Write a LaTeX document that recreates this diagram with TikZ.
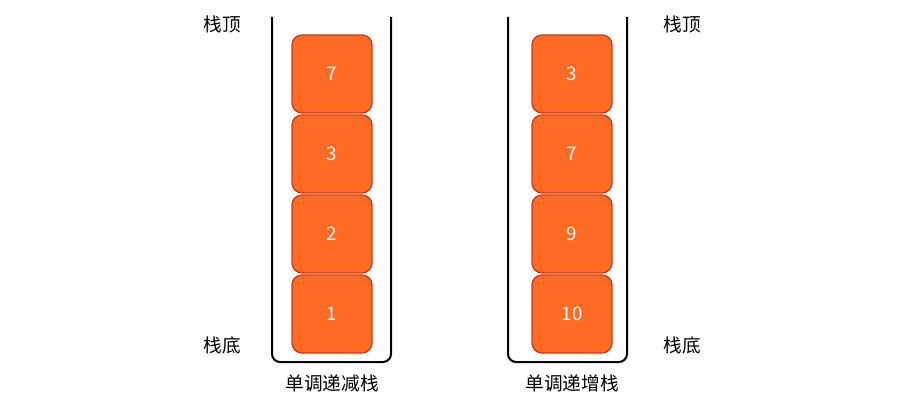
\documentclass[tikz,border=0pt]{standalone}
\usepackage{fontspec}
\setmainfont{Noto Sans CJK SC}
\usepackage{tikz}
\usetikzlibrary{positioning}
\definecolor{cellfill}{HTML}{FF6A25}
\definecolor{celldraw}{HTML}{CC3A1A}

\begin{document}
\begin{tikzpicture}[x=0.75pt,y=-0.75pt]
		\tikzstyle{cell}=[draw=celldraw,fill=cellfill,rounded corners=7.5pt,line width=1pt,minimum width=60pt,minimum height=58.5pt,text=white,font=\fontsize{14}{16}\selectfont,inner sep=0pt]
		\tikzstyle{tag}=[font=\fontsize{14}{16}\selectfont,inner sep=0pt]
		\tikzstyle{wall}=[line width=1.5pt,rounded corners=6pt]
		\useasboundingbox (0,0) rectangle (900,403);
		
		% stacks
		\draw[wall] (272,17) -- (272,362) -- (391,362) -- (391,17);
		\draw[wall] (508,17) -- (508,362) -- (627,362) -- (627,17);
		
		\foreach \v [count=\i] in {7,3,2,1}
		\node[cell] (dec\i) at (332,-6+80*\i) {\v};
		\foreach \v [count=\i] in {3,7,9,10}
		\node[cell] (inc\i) at (572,-6+80*\i) {\v};
		
		% labels
		\node[tag] (dectop) at (222,24) {栈顶};
		\node[tag] (decbot) at (222,345) {栈底};
		\node[tag] (inctop) at (682,24) {栈顶};
		\node[tag] (incbot) at (682,345) {栈底};
		\node[tag] (decname) at (332,383) {单调递减栈};
		\node[tag] (incname) at (572,383) {单调递增栈};
		
	\end{tikzpicture}
\end{document}
